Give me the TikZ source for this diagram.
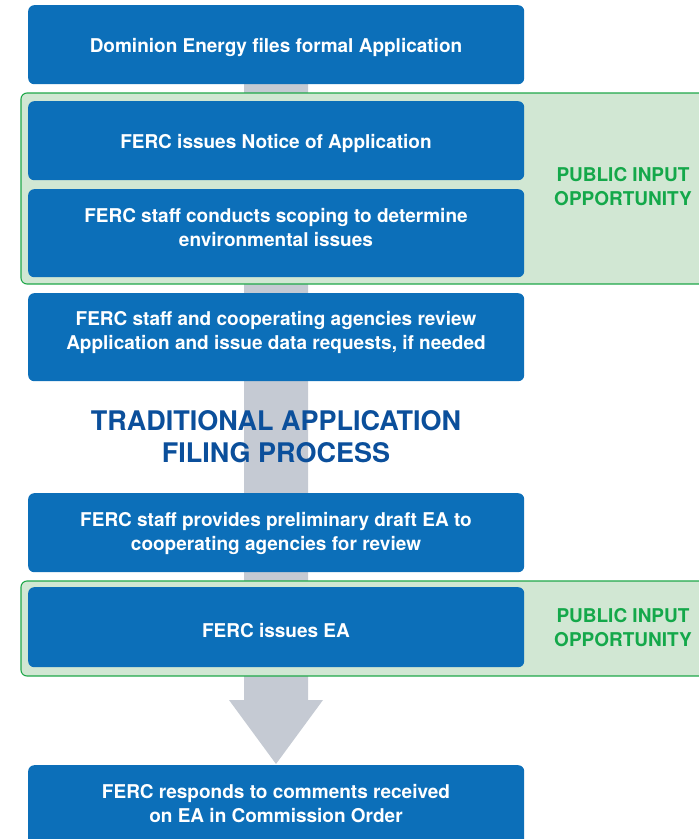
\documentclass[tikz,border=0pt]{standalone}
\usepackage{fontspec}
\setmainfont{TeX Gyre Heros}
\definecolor{boxblue}{HTML}{0C6FB9}
\definecolor{titleblue}{HTML}{0B4F9B}
\definecolor{greenfill}{HTML}{D1E7D3}
\definecolor{greenline}{HTML}{1FA84A}
\definecolor{greentext}{HTML}{14A84A}
\definecolor{arrowgray}{HTML}{C5CAD3}
\tikzset{
  stepbox/.style={fill=boxblue, draw=none, rounded corners=6pt, minimum width=496pt, inner sep=0pt, anchor=north west},
  boxtext/.style={text=white, font=\fontsize{19}{24}\selectfont\bfseries, align=center, inner sep=0pt},
  zone/.style={fill=greenfill, draw=greenline, line width=1.1pt, rounded corners=6pt},
  zonetext/.style={text=greentext, font=\fontsize{19}{24}\selectfont\bfseries, align=center, inner sep=0pt},
  titletext/.style={text=titleblue, font=\fontsize{27}{32}\selectfont\bfseries, align=center, inner sep=0pt},
}
\begin{document}
\begin{tikzpicture}[x=1pt, y=-1pt]
\useasboundingbox (0,0) rectangle (699,839);
\clip (0,0) rectangle (699,839);
% gray arrow
\coordinate (as1) at (244,84);
\coordinate (as2) at (308,84);
\coordinate (ah1) at (229,700);
\coordinate (ah2) at (323,700);
\coordinate (tip) at (276,764);
\fill[arrowgray] (as1) -- (as2) -- (308,700) -- (ah2) -- (tip) -- (ah1) -- (244,700) -- cycle;
% green zones
\draw[zone] (720,93) -- (21,93) -- (21,284) -- (720,284);
\draw[zone] (720,581) -- (21,581) -- (21,676) -- (720,676);
% boxes
\node[stepbox, minimum height=79pt] (b1) at (28,5) {};
\node[stepbox, minimum height=79pt] (b2) at (28,101) {};
\node[stepbox, minimum height=88pt] (b3) at (28,189) {};
\node[stepbox, minimum height=88pt] (b4) at (28,293) {};
\node[stepbox, minimum height=79pt] (b5) at (28,493) {};
\node[stepbox, minimum height=80pt] (b6) at (28,587) {};
\node[stepbox, minimum height=90pt] (b7) at (28,765) {};
% texts
\node[boxtext, text height=14pt, text depth=4pt] (t1) at (276,47) {Dominion Energy files formal Application};
\node[boxtext, text height=14pt, text depth=4pt] (t2) at (276,143) {FERC issues Notice of Application};
\node[boxtext] (t3) at (276,228) {FERC staff conducts scoping to determine\\environmental issues};
\node[boxtext] (t4) at (276,332) {FERC staff and cooperating agencies review\\Application and issue data requests, if needed};
\node[boxtext] (t5) at (276,533) {FERC staff provides preliminary draft EA to\\cooperating agencies for review};
\node[boxtext, text height=14pt, text depth=4pt] (t6) at (276,632) {FERC issues EA};
\node[boxtext] (t7) at (276,804) {FERC responds to comments received\\on EA in Commission Order};
\node[titletext] (title) at (276,437) {TRADITIONAL APPLICATION\\FILING PROCESS};
\node[zonetext] (z1) at (623,187) {PUBLIC INPUT\\OPPORTUNITY};
\node[zonetext] (z2) at (623,628) {PUBLIC INPUT\\OPPORTUNITY};
\end{tikzpicture}
\end{document}
